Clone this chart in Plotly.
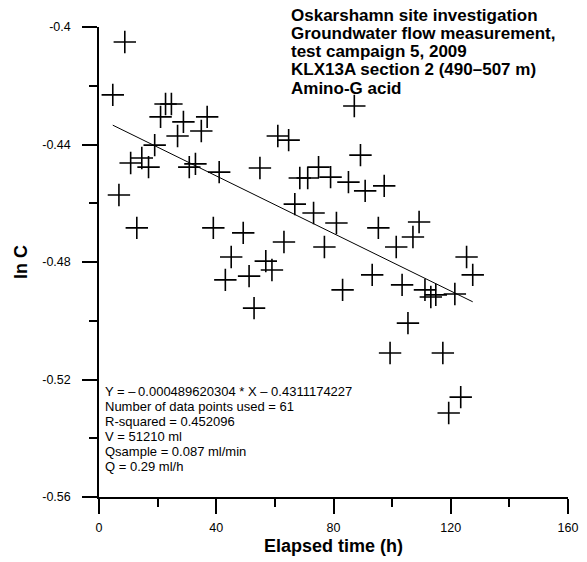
import plotly.graph_objects as go

# Elapsed time (h)
elapsed_h = [4.7, 6.8, 8.8, 10.8, 12.9, 14.6, 16.9, 19.0, 21.0, 22.7,
             24.7, 26.8, 28.8, 30.8, 32.9, 34.9, 36.9, 39.0, 41.0, 43.1,
             45.1, 49.2, 51.2, 52.9, 54.9, 56.9, 59.0, 61.0, 63.1, 64.7,
             66.8, 68.5, 71.2, 73.2, 74.9, 76.9, 79.0, 81.0, 83.1, 85.1,
             87.1, 89.2, 90.8, 93.2, 95.3, 97.3, 99.3, 101.4, 103.4, 105.4,
             107.1, 109.2, 111.2, 113.2, 114.9, 117.3, 119.3, 121.4, 123.4, 125.4,
             127.5]
# ln C
ln_c = [-0.4231, -0.4572, -0.4051, -0.4463, -0.4684, -0.4446, -0.4477, -0.4402, -0.4306, -0.4262,
        -0.4262, -0.4371, -0.4323, -0.4477, -0.4466, -0.4354, -0.4306, -0.4684, -0.4494, -0.4861,
        -0.4783, -0.4701, -0.4848, -0.4957, -0.4480, -0.4797, -0.4827, -0.4371, -0.4732, -0.4385,
        -0.4603, -0.4514, -0.4514, -0.4633, -0.4477, -0.4749, -0.4511, -0.4667, -0.4895, -0.4528,
        -0.4269, -0.4436, -0.4558, -0.4844, -0.4684, -0.4541, -0.5110, -0.4749, -0.4878, -0.5008,
        -0.4715, -0.4664, -0.4895, -0.4919, -0.4912, -0.5110, -0.5314, -0.4909, -0.5260, -0.4783,
        -0.4844]

slope = -0.000489620304
intercept = -0.4311174227

x_tick_vals = [0, 40, 80, 120, 160]
x_tick_text = ["0", "40", "80", "120", "160"]
x_minor_vals = [20, 60, 100, 140]
y_tick_vals = [-0.56, -0.52, -0.48, -0.44, -0.4]
y_tick_text = ["-0.56", "-0.52", "-0.48", "-0.44", "-0.4"]
y_minor_vals = [-0.54, -0.50, -0.46, -0.42]

title_lines = ["Oskarshamn site investigation",
               "Groundwater flow measurement,",
               "test campaign 5, 2009",
               "KLX13A section 2 (490\u2013507 m)",
               "Amino-G acid"]
stats_lines = ["Y = \u2013\u20090.000489620304 * X \u2013 0.4311174227",
               "Number of data points used = 61",
               "R-squared = 0.452096",
               "V = 51210 ml",
               "Qsample = 0.087 ml/min",
               "Q = 0.29 ml/h"]

FONT = "Liberation Sans, Arial, sans-serif"

# plot-area geometry in page pixels (page has an 8 px body margin)
PL, PT, PW, PH = 96, 27, 472, 470


def px_x(x):
    return (x - PL) / PW


def px_y(y):
    return (PT + PH - y) / PH


fig = go.Figure()
fig.add_trace(go.Scatter(
    x=elapsed_h, y=ln_c, mode="markers",
    marker=dict(symbol="cross-thin-open", size=16, color="black",
                line=dict(color="black", width=1.6)),
    showlegend=False, hoverinfo="skip"))

x0, x1 = min(elapsed_h), max(elapsed_h)
fig.add_trace(go.Scatter(
    x=[x0, x1], y=[slope * x0 + intercept, slope * x1 + intercept],
    mode="lines", line=dict(color="black", width=1), showlegend=False,
    hoverinfo="skip"))

fig.update_layout(
    width=587, height=562,
    margin=dict(l=88, r=27, t=19, b=73),
    paper_bgcolor="white", plot_bgcolor="white",
    font=dict(family=FONT, color="black", size=12),
    xaxis=dict(range=[0, 160], showgrid=False, zeroline=False,
               showline=True, linecolor="black", linewidth=1.5,
               tickvals=x_tick_vals, ticktext=x_tick_text,
               ticks="outside", ticklen=15, tickwidth=1.5, tickcolor="black",
               ticklabelstandoff=3,
               tickfont=dict(size=12.5, family=FONT, color="black"),
               minor=dict(tickvals=x_minor_vals, ticks="outside", ticklen=8,
                          tickwidth=1.5, tickcolor="black"),
               title=dict(text="<b>Elapsed time (h)</b>",
                          font=dict(size=18, family=FONT), standoff=6)),
    yaxis=dict(range=[-0.56, -0.4], showgrid=False, zeroline=False,
               showline=True, linecolor="black", linewidth=1.5,
               tickvals=y_tick_vals, ticktext=y_tick_text,
               ticks="outside", ticklen=15, tickwidth=1.5, tickcolor="black",
               ticklabelstandoff=9,
               tickfont=dict(size=12.5, family=FONT, color="black"),
               minor=dict(tickvals=y_minor_vals, ticks="outside", ticklen=8,
                          tickwidth=1.5, tickcolor="black"),
               title=dict(text="<b>ln C</b>",
                          font=dict(size=18, family=FONT), standoff=10)),
)

title_y = [15.5, 33.5, 51.5, 69.7, 88]
for line, yy in zip(title_lines, title_y):
    fig.add_annotation(
        xref="paper", yref="paper", x=px_x(288), y=px_y(yy),
        xanchor="left", yanchor="middle", align="left", showarrow=False,
        borderpad=0,
        text="<b>" + line + "</b>",
        font=dict(size=17, family=FONT, color="black"))

stats_y = [391.5, 406.5, 421.5, 436.5, 451.5, 466.5]
for line, yy in zip(stats_lines, stats_y):
    fig.add_annotation(
        xref="paper", yref="paper", x=px_x(101), y=px_y(yy),
        xanchor="left", yanchor="middle", align="left", showarrow=False,
        borderpad=0,
        text=line, font=dict(size=13, family=FONT, color="black"))

# clipped label at far left edge of the page
fig.add_annotation(
    xref="paper", yref="paper", x=px_x(-1), y=px_y(527),
    xanchor="center", yanchor="middle", showarrow=False, text="0",
    font=dict(size=12.5, family=FONT, color="black"))

fig.write_html("out.html")
